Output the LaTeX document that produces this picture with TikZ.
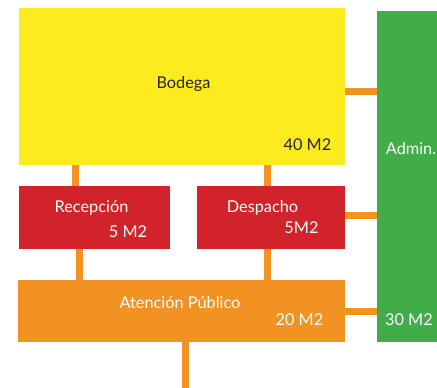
\documentclass[tikz,border=0pt]{standalone}
\usepackage{fontspec}
\setmainfont{Lato}
\definecolor{cyel}{HTML}{FCEC1F}
\definecolor{cred}{HTML}{D2232A}
\definecolor{corg}{HTML}{F29222}
\definecolor{cgrn}{HTML}{41AD49}
\begin{document}
\begin{tikzpicture}[x=1pt,y=-1pt,
  box/.style={rectangle,inner sep=0pt,outer sep=0pt,draw=none},
  conn/.style={draw=corg,line width=7pt},
  lbl/.style={inner sep=0pt,anchor=base,font=\fontsize{16.3}{18}\selectfont},
  wlbl/.style={lbl,text=white},
  klbl/.style={lbl,text=black!85}]
\useasboundingbox (0,0) rectangle (437,388);
% boxes
\node[box,fill=cyel,minimum width=326pt,minimum height=157.5pt] (bodega) at (182,86.25) {};
\node[box,fill=cgrn,minimum width=60pt,minimum height=331pt] (admin) at (407,176.5) {};
\node[box,fill=cred,minimum width=151pt,minimum height=63pt] (recep) at (94.5,217.5) {};
\node[box,fill=cred,minimum width=148pt,minimum height=63pt] (desp) at (271,217.5) {};
\node[box,fill=corg,minimum width=327pt,minimum height=62pt] (aten) at (181.5,311) {};
\coordinate (out) at (185.5,388);
% connectors
\draw[conn] (bodega.east |- 0,91) -- (admin.west |- 0,91);
\draw[conn] (bodega.south -| 75.5,0) -- (recep.north -| 75.5,0);
\draw[conn] (bodega.south -| 267.5,0) -- (desp.north -| 267.5,0);
\draw[conn] (desp.east |- 0,215) -- (admin.west |- 0,215);
\draw[conn] (recep.south -| 79,0) -- (aten.north -| 79,0);
\draw[conn] (desp.south -| 267,0) -- (aten.north -| 267,0);
\draw[conn] (aten.east |- 0,311) -- (admin.west |- 0,311);
\draw[conn] (aten.south -| out) -- (out);
% labels
\node[klbl] (tbod) at (183.5,88) {Bodega};
\node[klbl] (tbodm) at (307.5,150) {40 M2};
\node[wlbl] (tadm) at (411,154) {Admin.};
\node[wlbl] (trec) at (91.5,212) {Recepción};
\node[wlbl] (trecm) at (128,237) {5 M2};
\node[wlbl] (tdes) at (262.5,212) {Despacho};
\node[wlbl] (tdesm) at (301.5,233) {5M2};
\node[wlbl] (tate) at (180,308) {Atención Público};
\node[wlbl] (tatem) at (299.5,325) {20 M2};
\node[wlbl] (tadmm) at (409,325) {30 M2};
\end{tikzpicture}
\end{document}
